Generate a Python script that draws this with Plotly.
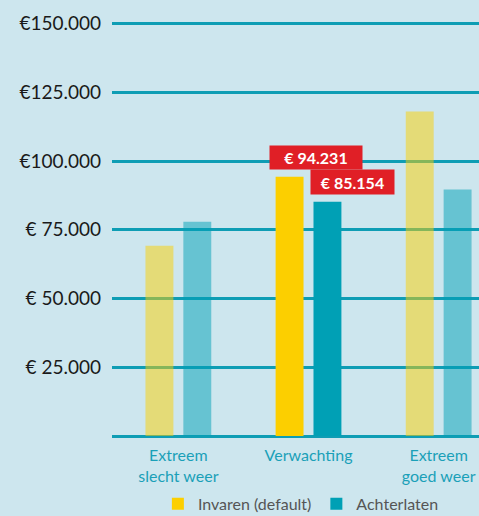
import plotly.graph_objects as go

categories = ["Extreem<br>slecht weer", "Verwachting", "Extreem<br>goed weer"]
invaren = [69200, 94231, 118000]
achterlaten = [77900, 85154, 89600]
bar_opacity = [0.5, 1, 0.5]
tick_vals = [0, 25000, 50000, 75000, 100000, 125000, 150000]
tick_text = ["", "€ 25.000", "€ 50.000", "€ 75.000", "€100.000", "€125.000", "€150.000"]
label_texts = ["€ 94.231", "€ 85.154"]

BG = "#cde6ee"
YEL = "#fccf00"
BLU = "#00a0b5"
GRID = "#0e9db4"
FONT = "Lato"

fig = go.Figure()
fig.add_trace(go.Bar(x=categories, y=invaren, name="Invaren (default)",
                     marker=dict(color=YEL, opacity=bar_opacity, line=dict(width=0))))
fig.add_trace(go.Bar(x=categories, y=achterlaten, name="Achterlaten",
                     marker=dict(color=BLU, opacity=bar_opacity, line=dict(width=0))))

fig.add_annotation(x=categories[1], y=invaren[1], text="<b>" + label_texts[0] + "</b>",
                   xref="x", yref="y", showarrow=False, xanchor="left", yanchor="bottom",
                   xshift=-40, yshift=7, bgcolor="#e01f26", borderpad=3, width=86, height=17,
                   align="center", font=dict(family=FONT, size=16, color="white"))
fig.add_annotation(x=categories[1], y=achterlaten[1], text="<b>" + label_texts[1] + "</b>",
                   xref="x", yref="y", showarrow=False, xanchor="left", yanchor="bottom",
                   xshift=1, yshift=7, bgcolor="#e01f26", borderpad=3, width=77, height=18,
                   align="center", font=dict(family=FONT, size=16, color="white"))

fig.update_layout(
    width=479, height=516,
    margin=dict(l=112, r=0, t=18, b=80, autoexpand=False),
    paper_bgcolor=BG, plot_bgcolor=BG,
    barmode="group", bargap=0.418, bargroupgap=0.263,
    font=dict(family=FONT),
    showlegend=True,
    legend=dict(orientation="h", x=0.125, y=-0.203, xanchor="left", yanchor="bottom",
                font=dict(family=FONT, size=16, color="#555555"),
                bgcolor="rgba(0,0,0,0)", itemwidth=30),
    xaxis=dict(type="category", range=[-0.51, 2.31], showgrid=False, zeroline=False,
               showline=False, ticks="", ticklabelstandoff=8,
               tickfont=dict(family=FONT, size=16, color="#1aa0b8")),
    yaxis=dict(range=[0, 152000], tickvals=tick_vals, ticktext=tick_text,
               showgrid=True, gridcolor=GRID, gridwidth=3,
               zeroline=True, zerolinecolor=GRID, zerolinewidth=3,
               showline=False, ticks="", ticklabelstandoff=10,
               tickfont=dict(family=FONT, size=19, color="#1a1a1a")),
)

fig.write_html("out.html", config={"displayModeBar": False},
               post_script="document.body.style.margin='0';document.body.style.overflow='hidden';document.body.style.background='" + BG + "';")
